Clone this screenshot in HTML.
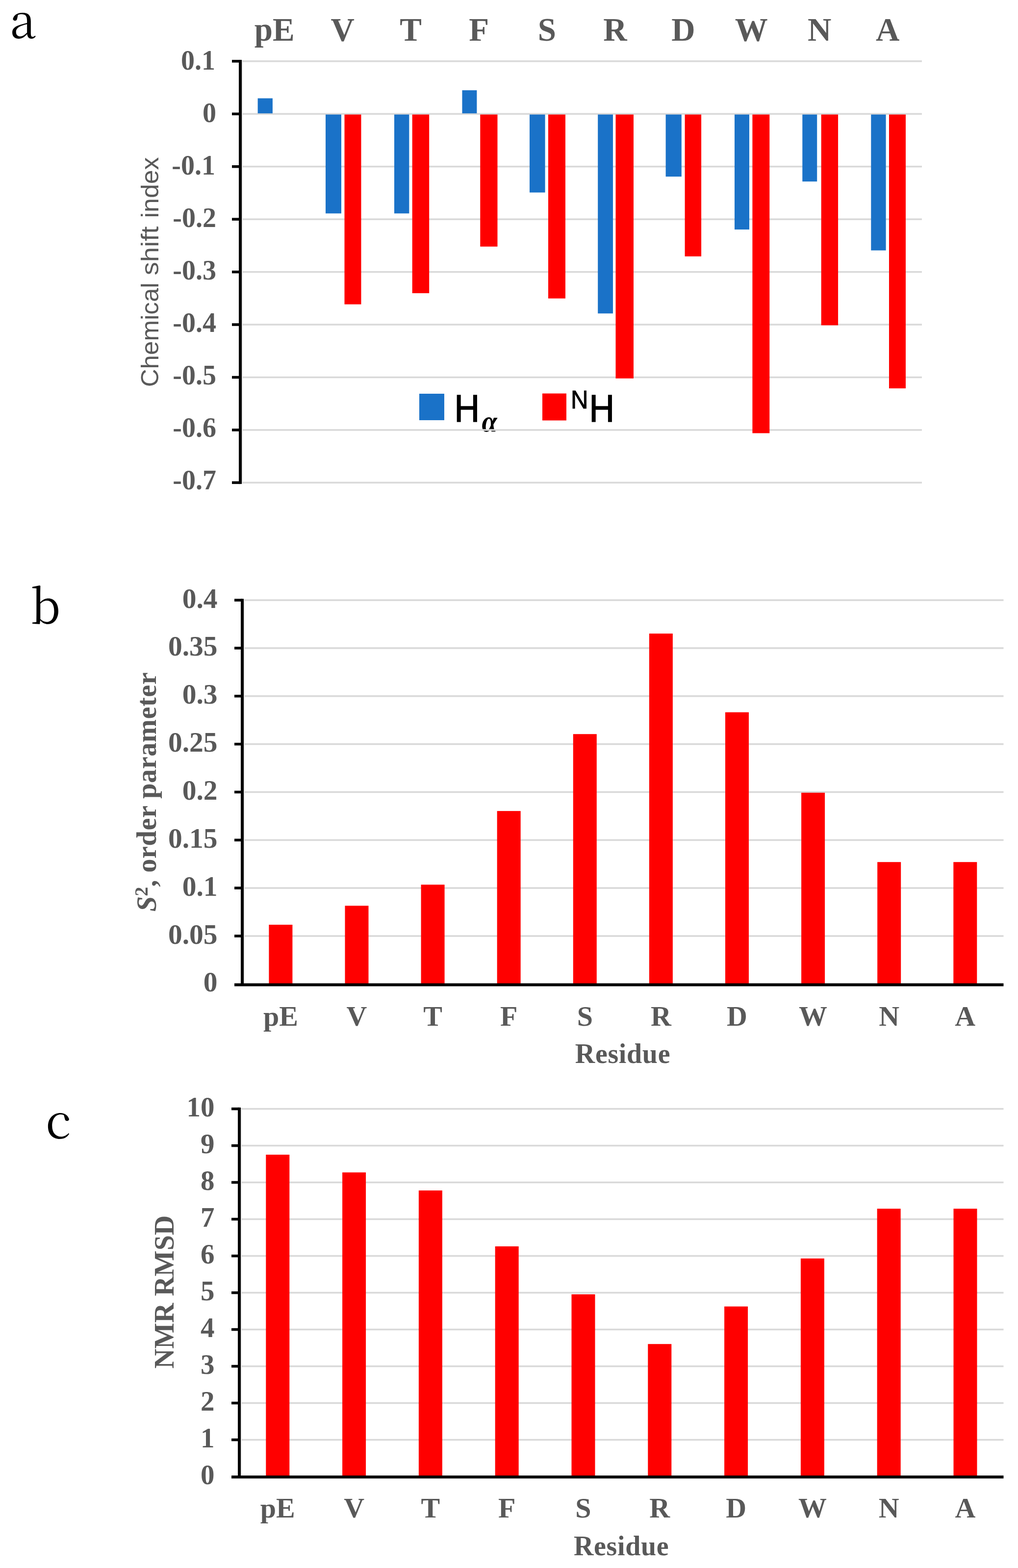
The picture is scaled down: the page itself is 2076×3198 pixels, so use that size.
<!DOCTYPE html>
<html><head><meta charset="utf-8"><title>Figure</title>
<style>html,body{margin:0;padding:0;background:#fff;overflow:hidden;}svg{display:block;}</style>
</head><body>
<svg width="2076" height="3198" viewBox="0 0 2076 3198">
<rect x="0" y="0" width="2076" height="3198" fill="#fff"/>
<text transform="translate(982.4,880.4) scale(0.934,1)" font-size="60.4" font-weight="bold" font-style="italic" fill="#000" font-family="'Liberation Serif', 'Times New Roman', serif">&#945;</text>
<rect x="493.0" y="982.6" width="1387.0" height="3.5" fill="#d9d9d9"/>
<rect x="493.0" y="875.2" width="1387.0" height="3.5" fill="#d9d9d9"/>
<rect x="493.0" y="767.8" width="1387.0" height="3.5" fill="#d9d9d9"/>
<rect x="493.0" y="660.3" width="1387.0" height="3.5" fill="#d9d9d9"/>
<rect x="493.0" y="552.9" width="1387.0" height="3.5" fill="#d9d9d9"/>
<rect x="493.0" y="445.4" width="1387.0" height="3.5" fill="#d9d9d9"/>
<rect x="493.0" y="338.0" width="1387.0" height="3.5" fill="#d9d9d9"/>
<rect x="493.0" y="230.6" width="1387.0" height="3.5" fill="#d9d9d9"/>
<rect x="493.0" y="123.1" width="1387.0" height="3.5" fill="#d9d9d9"/>
<rect x="525.6" y="200.5" width="30.3" height="30.7" fill="#1a72c8"/>
<rect x="664.0" y="233.6" width="32.0" height="201.7" fill="#1a72c8"/>
<rect x="702.5" y="233.6" width="34.0" height="387.1" fill="#ff0000"/>
<rect x="804.0" y="233.6" width="30.4" height="201.7" fill="#1a72c8"/>
<rect x="840.7" y="233.6" width="34.5" height="364.4" fill="#ff0000"/>
<rect x="942.5" y="184.1" width="29.9" height="47.1" fill="#1a72c8"/>
<rect x="979.3" y="233.6" width="35.2" height="269.3" fill="#ff0000"/>
<rect x="1080.0" y="233.6" width="31.6" height="159.0" fill="#1a72c8"/>
<rect x="1118.0" y="233.6" width="35.0" height="375.1" fill="#ff0000"/>
<rect x="1219.2" y="233.6" width="30.8" height="405.7" fill="#1a72c8"/>
<rect x="1255.5" y="233.6" width="36.5" height="538.2" fill="#ff0000"/>
<rect x="1357.6" y="233.6" width="32.2" height="126.6" fill="#1a72c8"/>
<rect x="1396.6" y="233.6" width="33.5" height="289.3" fill="#ff0000"/>
<rect x="1498.0" y="233.6" width="30.0" height="234.5" fill="#1a72c8"/>
<rect x="1534.4" y="233.6" width="34.9" height="649.9" fill="#ff0000"/>
<rect x="1636.3" y="233.6" width="29.9" height="136.6" fill="#1a72c8"/>
<rect x="1674.7" y="233.6" width="34.4" height="429.8" fill="#ff0000"/>
<rect x="1776.3" y="233.6" width="30.3" height="277.1" fill="#1a72c8"/>
<rect x="1813.0" y="233.6" width="34.0" height="558.5" fill="#ff0000"/>
<rect x="493.0" y="124.9" width="2.0" height="859.5" fill="#e6e6e6"/>
<rect x="487.0" y="122.1" width="6.0" height="865.0" fill="#000"/>
<rect x="473.0" y="981.6" width="17.0" height="5.5" fill="#000"/>
<rect x="473.0" y="874.2" width="17.0" height="5.5" fill="#000"/>
<rect x="473.0" y="766.8" width="17.0" height="5.5" fill="#000"/>
<rect x="473.0" y="659.3" width="17.0" height="5.5" fill="#000"/>
<rect x="473.0" y="551.9" width="17.0" height="5.5" fill="#000"/>
<rect x="473.0" y="444.4" width="17.0" height="5.5" fill="#000"/>
<rect x="473.0" y="337.0" width="17.0" height="5.5" fill="#000"/>
<rect x="473.0" y="229.6" width="17.0" height="5.5" fill="#000"/>
<rect x="473.0" y="122.1" width="17.0" height="5.5" fill="#000"/>
<text x="441.0" y="998.4" font-size="56" text-anchor="end" font-weight="bold" fill="#595959" font-family="'Liberation Serif', 'Times New Roman', serif" >-0.7</text>
<text x="441.0" y="891.3" font-size="56" text-anchor="end" font-weight="bold" fill="#595959" font-family="'Liberation Serif', 'Times New Roman', serif" >-0.6</text>
<text x="441.0" y="784.2" font-size="56" text-anchor="end" font-weight="bold" fill="#595959" font-family="'Liberation Serif', 'Times New Roman', serif" >-0.5</text>
<text x="441.0" y="677.2" font-size="56" text-anchor="end" font-weight="bold" fill="#595959" font-family="'Liberation Serif', 'Times New Roman', serif" >-0.4</text>
<text x="441.0" y="570.1" font-size="56" text-anchor="end" font-weight="bold" fill="#595959" font-family="'Liberation Serif', 'Times New Roman', serif" >-0.3</text>
<text x="441.0" y="463.0" font-size="56" text-anchor="end" font-weight="bold" fill="#595959" font-family="'Liberation Serif', 'Times New Roman', serif" >-0.2</text>
<text x="439.0" y="355.9" font-size="56" text-anchor="end" font-weight="bold" fill="#595959" font-family="'Liberation Serif', 'Times New Roman', serif" >-0.1</text>
<text x="441.0" y="248.8" font-size="56" text-anchor="end" font-weight="bold" fill="#595959" font-family="'Liberation Serif', 'Times New Roman', serif" >0</text>
<text x="439.0" y="141.7" font-size="56" text-anchor="end" font-weight="bold" fill="#595959" font-family="'Liberation Serif', 'Times New Roman', serif" >0.1</text>
<text x="559.8" y="83.1" font-size="67" text-anchor="middle" font-weight="bold" fill="#595959" font-family="'Liberation Serif', 'Times New Roman', serif" >pE</text>
<text x="698.7" y="83.1" font-size="67" text-anchor="middle" font-weight="bold" fill="#595959" font-family="'Liberation Serif', 'Times New Roman', serif" >V</text>
<text x="837.7" y="83.1" font-size="67" text-anchor="middle" font-weight="bold" fill="#595959" font-family="'Liberation Serif', 'Times New Roman', serif" >T</text>
<text x="976.6" y="83.1" font-size="67" text-anchor="middle" font-weight="bold" fill="#595959" font-family="'Liberation Serif', 'Times New Roman', serif" >F</text>
<text x="1115.5" y="83.1" font-size="67" text-anchor="middle" font-weight="bold" fill="#595959" font-family="'Liberation Serif', 'Times New Roman', serif" >S</text>
<text x="1254.5" y="83.1" font-size="67" text-anchor="middle" font-weight="bold" fill="#595959" font-family="'Liberation Serif', 'Times New Roman', serif" >R</text>
<text x="1393.4" y="83.1" font-size="67" text-anchor="middle" font-weight="bold" fill="#595959" font-family="'Liberation Serif', 'Times New Roman', serif" >D</text>
<text x="1532.3" y="83.1" font-size="67" text-anchor="middle" font-weight="bold" fill="#595959" font-family="'Liberation Serif', 'Times New Roman', serif" >W</text>
<text x="1671.2" y="83.1" font-size="67" text-anchor="middle" font-weight="bold" fill="#595959" font-family="'Liberation Serif', 'Times New Roman', serif" >N</text>
<text x="1810.2" y="83.1" font-size="67" text-anchor="middle" font-weight="bold" fill="#595959" font-family="'Liberation Serif', 'Times New Roman', serif" >A</text>
<text transform="translate(322.6,382.5) rotate(-90)" x="0" y="0" font-size="50" text-anchor="middle" fill="#595959" font-family="'Liberation Sans', Arial, sans-serif" textLength="124" lengthAdjust="spacingAndGlyphs">index</text>
<text transform="translate(322.6,511.5) rotate(-90)" x="0" y="0" font-size="50" text-anchor="middle" fill="#595959" font-family="'Liberation Sans', Arial, sans-serif" textLength="100" lengthAdjust="spacingAndGlyphs">shift</text>
<text transform="translate(322.6,682.8) rotate(-90)" x="0" y="0" font-size="50" text-anchor="middle" fill="#595959" font-family="'Liberation Sans', Arial, sans-serif" textLength="213" lengthAdjust="spacingAndGlyphs">Chemical</text>
<rect x="855.0" y="803.0" width="51.0" height="54.0" fill="#1a72c8"/>
<text transform="translate(926.5,860) scale(0.91,1)" font-size="78.5" fill="#000" stroke="#000" stroke-width="1.5" font-family="'Liberation Sans', Arial, sans-serif">H</text>
<rect x="1106.0" y="802.5" width="49.0" height="55.0" fill="#ff0000"/>
<text transform="translate(1164,833) scale(0.955,1)" font-size="51.5" fill="#000" stroke="#000" stroke-width="1" font-family="'Liberation Sans', Arial, sans-serif">N</text>
<text transform="translate(1201.5,860) scale(0.91,1)" font-size="78.5" fill="#000" stroke="#000" stroke-width="1.5" font-family="'Liberation Sans', Arial, sans-serif">H</text>
<text x="20.1" y="78.0" font-size="96.5" text-anchor="start" font-weight="normal" fill="#000" font-family="'Noto Serif CJK SC', 'Liberation Serif', serif" >a</text>
<rect x="497.0" y="1907.3" width="1549.5" height="3.5" fill="#d9d9d9"/>
<rect x="497.0" y="1809.4" width="1549.5" height="3.5" fill="#d9d9d9"/>
<rect x="497.0" y="1711.6" width="1549.5" height="3.5" fill="#d9d9d9"/>
<rect x="497.0" y="1613.7" width="1549.5" height="3.5" fill="#d9d9d9"/>
<rect x="497.0" y="1515.9" width="1549.5" height="3.5" fill="#d9d9d9"/>
<rect x="497.0" y="1418.0" width="1549.5" height="3.5" fill="#d9d9d9"/>
<rect x="497.0" y="1320.1" width="1549.5" height="3.5" fill="#d9d9d9"/>
<rect x="497.0" y="1222.3" width="1549.5" height="3.5" fill="#d9d9d9"/>
<rect x="548.4" y="1886.0" width="48.0" height="122.0" fill="#ff0000"/>
<rect x="703.5" y="1847.3" width="48.0" height="160.7" fill="#ff0000"/>
<rect x="858.6" y="1804.3" width="48.0" height="203.7" fill="#ff0000"/>
<rect x="1013.7" y="1654.1" width="48.0" height="353.9" fill="#ff0000"/>
<rect x="1168.8" y="1497.2" width="48.0" height="510.8" fill="#ff0000"/>
<rect x="1323.9" y="1292.2" width="48.0" height="715.8" fill="#ff0000"/>
<rect x="1479.0" y="1452.7" width="48.0" height="555.3" fill="#ff0000"/>
<rect x="1634.1" y="1616.8" width="48.0" height="391.2" fill="#ff0000"/>
<rect x="1789.2" y="1758.2" width="48.0" height="249.8" fill="#ff0000"/>
<rect x="1944.3" y="1758.2" width="48.0" height="249.8" fill="#ff0000"/>
<rect x="497.0" y="1224.0" width="2.0" height="781.0" fill="#e6e6e6"/>
<rect x="491.0" y="1221.3" width="6.0" height="786.7" fill="#000"/>
<rect x="478.0" y="2005.5" width="1568.5" height="6.0" fill="#000"/>
<rect x="478.0" y="1906.3" width="16.0" height="5.5" fill="#000"/>
<rect x="478.0" y="1808.4" width="16.0" height="5.5" fill="#000"/>
<rect x="478.0" y="1710.6" width="16.0" height="5.5" fill="#000"/>
<rect x="478.0" y="1612.7" width="16.0" height="5.5" fill="#000"/>
<rect x="478.0" y="1514.9" width="16.0" height="5.5" fill="#000"/>
<rect x="478.0" y="1417.0" width="16.0" height="5.5" fill="#000"/>
<rect x="478.0" y="1319.1" width="16.0" height="5.5" fill="#000"/>
<rect x="478.0" y="1221.3" width="16.0" height="5.5" fill="#000"/>
<text x="443.5" y="2022.4" font-size="57.5" text-anchor="end" font-weight="bold" fill="#595959" font-family="'Liberation Serif', 'Times New Roman', serif" >0</text>
<text x="443.5" y="1924.5" font-size="57.5" text-anchor="end" font-weight="bold" fill="#595959" font-family="'Liberation Serif', 'Times New Roman', serif" >0.05</text>
<text x="443.5" y="1826.7" font-size="57.5" text-anchor="end" font-weight="bold" fill="#595959" font-family="'Liberation Serif', 'Times New Roman', serif" >0.1</text>
<text x="443.5" y="1728.8" font-size="57.5" text-anchor="end" font-weight="bold" fill="#595959" font-family="'Liberation Serif', 'Times New Roman', serif" >0.15</text>
<text x="443.5" y="1631.0" font-size="57.5" text-anchor="end" font-weight="bold" fill="#595959" font-family="'Liberation Serif', 'Times New Roman', serif" >0.2</text>
<text x="443.5" y="1533.1" font-size="57.5" text-anchor="end" font-weight="bold" fill="#595959" font-family="'Liberation Serif', 'Times New Roman', serif" >0.25</text>
<text x="443.5" y="1435.2" font-size="57.5" text-anchor="end" font-weight="bold" fill="#595959" font-family="'Liberation Serif', 'Times New Roman', serif" >0.3</text>
<text x="443.5" y="1337.4" font-size="57.5" text-anchor="end" font-weight="bold" fill="#595959" font-family="'Liberation Serif', 'Times New Roman', serif" >0.35</text>
<text x="443.5" y="1239.5" font-size="57.5" text-anchor="end" font-weight="bold" fill="#595959" font-family="'Liberation Serif', 'Times New Roman', serif" >0.4</text>
<text x="572.4" y="2092.0" font-size="58" text-anchor="middle" font-weight="bold" fill="#595959" font-family="'Liberation Serif', 'Times New Roman', serif" >pE</text>
<text x="727.5" y="2092.0" font-size="58" text-anchor="middle" font-weight="bold" fill="#595959" font-family="'Liberation Serif', 'Times New Roman', serif" >V</text>
<text x="882.6" y="2092.0" font-size="58" text-anchor="middle" font-weight="bold" fill="#595959" font-family="'Liberation Serif', 'Times New Roman', serif" >T</text>
<text x="1037.7" y="2092.0" font-size="58" text-anchor="middle" font-weight="bold" fill="#595959" font-family="'Liberation Serif', 'Times New Roman', serif" >F</text>
<text x="1192.8" y="2092.0" font-size="58" text-anchor="middle" font-weight="bold" fill="#595959" font-family="'Liberation Serif', 'Times New Roman', serif" >S</text>
<text x="1347.9" y="2092.0" font-size="58" text-anchor="middle" font-weight="bold" fill="#595959" font-family="'Liberation Serif', 'Times New Roman', serif" >R</text>
<text x="1503.0" y="2092.0" font-size="58" text-anchor="middle" font-weight="bold" fill="#595959" font-family="'Liberation Serif', 'Times New Roman', serif" >D</text>
<text x="1658.1" y="2092.0" font-size="58" text-anchor="middle" font-weight="bold" fill="#595959" font-family="'Liberation Serif', 'Times New Roman', serif" >W</text>
<text x="1813.2" y="2092.0" font-size="58" text-anchor="middle" font-weight="bold" fill="#595959" font-family="'Liberation Serif', 'Times New Roman', serif" >N</text>
<text x="1968.3" y="2092.0" font-size="58" text-anchor="middle" font-weight="bold" fill="#595959" font-family="'Liberation Serif', 'Times New Roman', serif" >A</text>
<text x="1270.0" y="2167.7" font-size="56" text-anchor="middle" font-weight="bold" fill="#595959" font-family="'Liberation Serif', 'Times New Roman', serif" letter-spacing="0.65">Residue</text>
<text transform="translate(317.8,1615) rotate(-90)" x="0" y="0" font-size="56.5" text-anchor="middle" fill="#595959" font-weight="bold" font-family="'Liberation Serif', 'Times New Roman', serif"><tspan font-style="italic">S</tspan><tspan font-size="38" dy="-17">2</tspan><tspan dy="17" letter-spacing="0.45">, order parameter</tspan></text>
<text x="61.9" y="1271.7" font-size="96.5" text-anchor="start" font-weight="normal" fill="#000" font-family="'Noto Serif CJK SC', 'Liberation Serif', serif" >b</text>
<rect x="491.0" y="2934.8" width="1555.5" height="3.5" fill="#d9d9d9"/>
<rect x="491.0" y="2859.8" width="1555.5" height="3.5" fill="#d9d9d9"/>
<rect x="491.0" y="2784.8" width="1555.5" height="3.5" fill="#d9d9d9"/>
<rect x="491.0" y="2709.8" width="1555.5" height="3.5" fill="#d9d9d9"/>
<rect x="491.0" y="2634.8" width="1555.5" height="3.5" fill="#d9d9d9"/>
<rect x="491.0" y="2559.8" width="1555.5" height="3.5" fill="#d9d9d9"/>
<rect x="491.0" y="2484.8" width="1555.5" height="3.5" fill="#d9d9d9"/>
<rect x="491.0" y="2409.8" width="1555.5" height="3.5" fill="#d9d9d9"/>
<rect x="491.0" y="2334.8" width="1555.5" height="3.5" fill="#d9d9d9"/>
<rect x="491.0" y="2259.8" width="1555.5" height="3.5" fill="#d9d9d9"/>
<rect x="542.3" y="2355.0" width="48.0" height="657.0" fill="#ff0000"/>
<rect x="698.1" y="2391.2" width="48.0" height="620.8" fill="#ff0000"/>
<rect x="853.9" y="2428.0" width="48.0" height="584.0" fill="#ff0000"/>
<rect x="1009.7" y="2542.0" width="48.0" height="470.0" fill="#ff0000"/>
<rect x="1165.5" y="2639.8" width="48.0" height="372.2" fill="#ff0000"/>
<rect x="1321.3" y="2741.2" width="48.0" height="270.8" fill="#ff0000"/>
<rect x="1477.1" y="2664.6" width="48.0" height="347.4" fill="#ff0000"/>
<rect x="1632.9" y="2566.7" width="48.0" height="445.3" fill="#ff0000"/>
<rect x="1788.7" y="2465.2" width="48.0" height="546.8" fill="#ff0000"/>
<rect x="1944.5" y="2465.2" width="48.0" height="546.8" fill="#ff0000"/>
<rect x="491.0" y="2261.6" width="2.0" height="746.4" fill="#e6e6e6"/>
<rect x="485.0" y="2258.8" width="6.0" height="753.2" fill="#000"/>
<rect x="472.0" y="3009.4" width="1574.5" height="6.0" fill="#000"/>
<rect x="472.0" y="2933.8" width="16.0" height="5.5" fill="#000"/>
<rect x="472.0" y="2858.8" width="16.0" height="5.5" fill="#000"/>
<rect x="472.0" y="2783.8" width="16.0" height="5.5" fill="#000"/>
<rect x="472.0" y="2708.8" width="16.0" height="5.5" fill="#000"/>
<rect x="472.0" y="2633.8" width="16.0" height="5.5" fill="#000"/>
<rect x="472.0" y="2558.8" width="16.0" height="5.5" fill="#000"/>
<rect x="472.0" y="2483.8" width="16.0" height="5.5" fill="#000"/>
<rect x="472.0" y="2408.8" width="16.0" height="5.5" fill="#000"/>
<rect x="472.0" y="2333.8" width="16.0" height="5.5" fill="#000"/>
<rect x="472.0" y="2258.8" width="16.0" height="5.5" fill="#000"/>
<text x="437.5" y="3026.8" font-size="57" text-anchor="end" font-weight="bold" fill="#595959" font-family="'Liberation Serif', 'Times New Roman', serif" >0</text>
<text x="437.5" y="2951.8" font-size="57" text-anchor="end" font-weight="bold" fill="#595959" font-family="'Liberation Serif', 'Times New Roman', serif" >1</text>
<text x="437.5" y="2876.7" font-size="57" text-anchor="end" font-weight="bold" fill="#595959" font-family="'Liberation Serif', 'Times New Roman', serif" >2</text>
<text x="437.5" y="2801.7" font-size="57" text-anchor="end" font-weight="bold" fill="#595959" font-family="'Liberation Serif', 'Times New Roman', serif" >3</text>
<text x="437.5" y="2726.7" font-size="57" text-anchor="end" font-weight="bold" fill="#595959" font-family="'Liberation Serif', 'Times New Roman', serif" >4</text>
<text x="437.5" y="2651.7" font-size="57" text-anchor="end" font-weight="bold" fill="#595959" font-family="'Liberation Serif', 'Times New Roman', serif" >5</text>
<text x="437.5" y="2576.6" font-size="57" text-anchor="end" font-weight="bold" fill="#595959" font-family="'Liberation Serif', 'Times New Roman', serif" >6</text>
<text x="437.5" y="2501.6" font-size="57" text-anchor="end" font-weight="bold" fill="#595959" font-family="'Liberation Serif', 'Times New Roman', serif" >7</text>
<text x="437.5" y="2426.6" font-size="57" text-anchor="end" font-weight="bold" fill="#595959" font-family="'Liberation Serif', 'Times New Roman', serif" >8</text>
<text x="437.5" y="2351.5" font-size="57" text-anchor="end" font-weight="bold" fill="#595959" font-family="'Liberation Serif', 'Times New Roman', serif" >9</text>
<text x="437.5" y="2276.5" font-size="57" text-anchor="end" font-weight="bold" fill="#595959" font-family="'Liberation Serif', 'Times New Roman', serif" >10</text>
<text x="566.3" y="3095.0" font-size="58" text-anchor="middle" font-weight="bold" fill="#595959" font-family="'Liberation Serif', 'Times New Roman', serif" >pE</text>
<text x="722.1" y="3095.0" font-size="58" text-anchor="middle" font-weight="bold" fill="#595959" font-family="'Liberation Serif', 'Times New Roman', serif" >V</text>
<text x="877.9" y="3095.0" font-size="58" text-anchor="middle" font-weight="bold" fill="#595959" font-family="'Liberation Serif', 'Times New Roman', serif" >T</text>
<text x="1033.7" y="3095.0" font-size="58" text-anchor="middle" font-weight="bold" fill="#595959" font-family="'Liberation Serif', 'Times New Roman', serif" >F</text>
<text x="1189.5" y="3095.0" font-size="58" text-anchor="middle" font-weight="bold" fill="#595959" font-family="'Liberation Serif', 'Times New Roman', serif" >S</text>
<text x="1345.3" y="3095.0" font-size="58" text-anchor="middle" font-weight="bold" fill="#595959" font-family="'Liberation Serif', 'Times New Roman', serif" >R</text>
<text x="1501.1" y="3095.0" font-size="58" text-anchor="middle" font-weight="bold" fill="#595959" font-family="'Liberation Serif', 'Times New Roman', serif" >D</text>
<text x="1656.9" y="3095.0" font-size="58" text-anchor="middle" font-weight="bold" fill="#595959" font-family="'Liberation Serif', 'Times New Roman', serif" >W</text>
<text x="1812.7" y="3095.0" font-size="58" text-anchor="middle" font-weight="bold" fill="#595959" font-family="'Liberation Serif', 'Times New Roman', serif" >N</text>
<text x="1968.5" y="3095.0" font-size="58" text-anchor="middle" font-weight="bold" fill="#595959" font-family="'Liberation Serif', 'Times New Roman', serif" >A</text>
<text x="1267.2" y="3171.5" font-size="56" text-anchor="middle" font-weight="bold" fill="#595959" font-family="'Liberation Serif', 'Times New Roman', serif" letter-spacing="0.65">Residue</text>
<text transform="translate(354.4,2635) rotate(-90)" x="0" y="0" font-size="56" text-anchor="middle" fill="#595959" font-weight="bold" font-family="'Liberation Serif', 'Times New Roman', serif">NMR RMSD</text>
<text x="93.2" y="2321.9" font-size="96.5" text-anchor="start" font-weight="normal" fill="#000" font-family="'Noto Serif CJK SC', 'Liberation Serif', serif" >c</text>
</svg>
</body></html>
